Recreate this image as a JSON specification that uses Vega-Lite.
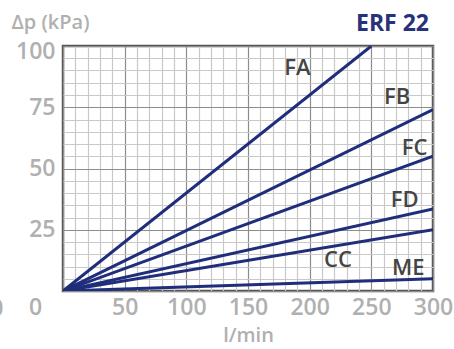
{
  "$schema": "https://vega.github.io/schema/vega-lite/v6.json",
  "width": 370,
  "height": 245,
  "autosize": {"type": "none"},
  "padding": {"left": 63, "top": 46, "right": 21, "bottom": 58},
  "background": "white",
  "config": {
    "view": {"stroke": "#555555", "strokeWidth": 2.5},
    "font": "Open Sans"
  },
  "title": {
    "text": "ERF 22",
    "anchor": "end",
    "frame": "group",
    "orient": "top",
    "baseline": "alphabetic",
    "offset": -17,
    "dy": 25,
    "dx": -4,
    "fontSize": 23,
    "fontWeight": "bold",
    "font": "Open Sans",
    "color": "#27327a"
  },
  "datasets": {
    "lines": [
      {"series": "FA", "q": 0, "dp": 0},
      {"series": "FA", "q": 250, "dp": 100},
      {"series": "FB", "q": 0, "dp": 0},
      {"series": "FB", "q": 300, "dp": 74},
      {"series": "FC", "q": 0, "dp": 0},
      {"series": "FC", "q": 300, "dp": 55},
      {"series": "FD", "q": 0, "dp": 0},
      {"series": "FD", "q": 300, "dp": 33.5},
      {"series": "CC", "q": 0, "dp": 0},
      {"series": "CC", "q": 300, "dp": 25},
      {"series": "ME", "q": 0, "dp": 0},
      {"series": "ME", "q": 300, "dp": 5}
    ],
    "labels": [
      {"name": "FA", "q": 190, "dp": 91},
      {"name": "FB", "q": 271, "dp": 79},
      {"name": "FC", "q": 285, "dp": 58.5},
      {"name": "FD", "q": 277, "dp": 37},
      {"name": "CC", "q": 223, "dp": 12.5},
      {"name": "ME", "q": 280, "dp": 9.5}
    ]
  },
  "encoding": {
    "x": {
      "field": "q",
      "type": "quantitative",
      "scale": {"domain": [0, 300], "nice": false, "zero": false},
      "axis": {
        "values": [0, 10, 20, 30, 40, 50, 60, 70, 80, 90, 100, 110, 120, 130, 140, 150, 160, 170, 180, 190, 200, 210, 220, 230, 240, 250, 260, 270, 280, 290, 300],
        "labelExpr": "datum.value % 50 === 0 ? datum.label : ''",
        "labelFlush": false,
        "labelOverlap": false,
        "ticks": false,
        "domain": false,
        "grid": true,
        "gridColor": {"condition": {"test": "datum.value % 50 === 0", "value": "#8c8c8c"}, "value": "#c9c9c9"},
        "gridWidth": 1.2,
        "labelFontSize": 23,
        "labelFontWeight": 600,
        "labelColor": "#b0b0b0",
        "labelPadding": 5,
        "labelBaseline": "top",
        "labelOffset": {"condition": {"test": "datum.value === 0", "value": -28}, "value": 0},
        "title": "l/min",
        "titleFontSize": 20,
        "titleFontWeight": 600,
        "titleColor": "#b0b0b0",
        "titleBaseline": "alphabetic",
        "titleY": 50
      }
    },
    "y": {
      "field": "dp",
      "type": "quantitative",
      "scale": {"domain": [0, 100], "nice": false},
      "axis": {
        "values": [0, 5, 10, 15, 20, 25, 30, 35, 40, 45, 50, 55, 60, 65, 70, 75, 80, 85, 90, 95, 100],
        "labelExpr": "datum.value % 25 === 0 ? datum.label : ''",
        "labelOverlap": false,
        "labelFlush": false,
        "ticks": false,
        "domain": false,
        "grid": true,
        "gridColor": {"condition": {"test": "datum.value % 25 === 0", "value": "#8c8c8c"}, "value": "#c9c9c9"},
        "gridWidth": 1.2,
        "labelFontSize": 23,
        "labelFontWeight": 600,
        "labelColor": "#b0b0b0",
        "labelPadding": {"condition": {"test": "datum.value === 0", "value": 60}, "value": 8},
        "labelOffset": {"condition": [{"test": "datum.value === 0", "value": 17}, {"test": "datum.value === 100", "value": 5}], "value": 0},
        "title": "Δp (kPa)",
        "titleAngle": 0,
        "titleAlign": "left",
        "titleBaseline": "alphabetic",
        "titleX": -52,
        "titleY": -18,
        "titleFontSize": 20,
        "titleFontWeight": 600,
        "titleColor": "#b0b0b0"
      }
    }
  },
  "layer": [
    {
      "data": {"name": "lines"},
      "mark": {"type": "line", "color": "#1f2d7b", "strokeWidth": 3, "clip": true},
      "encoding": {
        "detail": {"field": "series", "type": "nominal"}
      }
    },
    {
      "data": {"name": "labels"},
      "mark": {"type": "text", "fontSize": 22, "fontWeight": 600, "color": "#454545", "align": "center", "baseline": "middle"},
      "encoding": {
        "text": {"field": "name", "type": "nominal"}
      }
    }
  ]
}
